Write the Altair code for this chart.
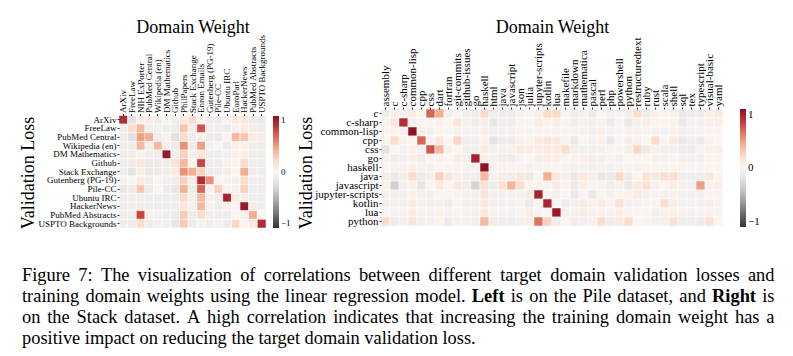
import altair as alt
import pandas as pd

# ---------------- data ----------------
pile_domains = ["ArXiv", "FreeLaw", "NIH ExPorter", "PubMed Central", "Wikipedia (en)",
                "DM Mathematics", "Github", "PhilPapers", "Stack Exchange", "Enron Emails",
                "Gutenberg (PG-19)", "Pile-CC", "Ubuntu IRC", "EuroParl", "HackerNews",
                "PubMed Abstracts", "USPTO Backgrounds"]
pile_targets = ["ArXiv", "FreeLaw", "PubMed Central", "Wikipedia (en)", "DM Mathematics",
                "Github", "Stack Exchange", "Gutenberg (PG-19)", "Pile-CC", "Ubuntu IRC",
                "HackerNews", "PubMed Abstracts", "USPTO Backgrounds"]
pile_corr = [
    [0.85, -0.2, 0.05, 0.05, -0.08, 0.0, -0.08, 0.1, 0.2, 0.02, -0.1, -0.1, 0.0, 0.08, 0.1, -0.1, -0.12],
    [-0.08, 0.2, 0.35, -0.08, -0.05, -0.08, -0.1, 0.3, -0.1, 0.7, -0.08, -0.08, -0.1, -0.03, 0.08, -0.08, -0.1],
    [-0.1, -0.2, 0.45, 0.4, -0.08, -0.03, -0.2, 0.2, -0.1, 0.05, -0.1, -0.12, 0.0, 0.35, 0.3, 0.08, -0.08],
    [-0.08, -0.1, 0.35, -0.08, 0.35, -0.05, -0.1, 0.5, -0.08, 0.45, -0.05, 0.0, -0.1, 0.03, 0.03, -0.08, -0.1],
    [-0.08, -0.08, -0.03, -0.08, -0.08, 0.95, -0.08, 0.25, -0.05, 0.1, -0.08, -0.08, -0.05, 0.04, 0.05, -0.08, -0.08],
    [-0.08, -0.1, 0.12, -0.12, -0.1, -0.08, 0.15, 0.35, 0.0, 0.75, -0.1, -0.1, 0.03, 0.02, 0.2, -0.08, -0.1],
    [-0.08, -0.18, 0.06, -0.12, -0.1, -0.08, 0.08, 0.5, 0.4, 0.25, -0.1, -0.1, 0.08, 0.0, 0.4, -0.08, -0.1],
    [-0.05, 0.0, 0.08, -0.08, 0.0, -0.05, -0.08, 0.25, -0.08, 0.85, 0.5, 0.02, -0.05, -0.05, 0.2, -0.08, -0.08],
    [-0.15, -0.1, 0.3, -0.1, 0.0, -0.1, -0.15, 0.38, -0.08, 0.65, 0.0, 0.25, 0.02, -0.05, 0.25, -0.1, -0.1],
    [-0.08, -0.08, -0.08, -0.08, -0.08, -0.08, -0.08, 0.2, -0.08, 0.35, -0.05, -0.08, 0.9, 0.08, -0.05, -0.08, -0.08],
    [-0.08, -0.08, -0.08, -0.08, -0.08, -0.08, -0.08, 0.12, -0.05, 0.35, -0.05, -0.08, -0.05, 0.0, 0.95, -0.08, -0.08],
    [-0.08, -0.1, 0.75, 0.03, -0.05, -0.08, -0.12, 0.28, -0.1, 0.18, -0.08, -0.08, -0.1, 0.0, -0.05, 0.4, 0.0],
    [-0.08, -0.1, 0.2, -0.08, -0.05, -0.05, -0.15, 0.28, -0.1, -0.03, -0.08, -0.05, -0.1, 0.22, 0.0, 0.1, 0.85],
]

stack_domains = ["assembly", "c", "c-sharp", "common-lisp", "cpp", "css", "dart", "fortran",
                 "git-commits", "github-issues", "go", "haskell", "html", "java", "javascript",
                 "json", "julia", "jupyter-scripts", "kotlin", "lua", "makefile", "markdown",
                 "mathematica", "pascal", "perl", "php", "powershell", "python",
                 "restructuredtext", "ruby", "rust", "scala", "shell", "sql", "tex",
                 "typescript", "visual-basic", "yaml"]
stack_targets = ["c", "c-sharp", "common-lisp", "cpp", "css", "go", "haskell", "java",
                 "javascript", "jupyter-scripts", "kotlin", "lua", "python"]
stack_corr = [
    [-0.08, 0.05, -0.05, 0.08, 0.02, 0.65, 0.4, -0.05, 0.0, -0.06, -0.08, 0.2, -0.08, -0.1, -0.1, -0.02, 0.0, 0.05, 0.2,
     0.2, 0.0, -0.08, -0.03, -0.12, 0.0, -0.05, 0.0, -0.08, 0.18, -0.1, 0.04, 0.02, 0.04, -0.12, -0.1, -0.1, 0.05, 0.1],
    [0.02, 0.12, 0.85, 0.05, 0.0, 0.0, 0.04, 0.0, 0.12, -0.05, -0.1, 0.05, -0.15, -0.08, -0.08, 0.0, 0.0, 0.07, 0.02,
     0.06, 0.0, -0.08, 0.03, -0.05, 0.04, -0.12, 0.0, -0.12, 0.04, 0.06, 0.0, 0.0, 0.02, -0.12, -0.05, -0.05, 0.05, 0.05],
    [0.0, -0.02, -0.04, 0.98, -0.04, -0.05, 0.0, 0.0, -0.03, -0.03, -0.03, 0.03, -0.04, -0.04, -0.04, -0.02, -0.02, -0.02, -0.02,
     -0.02, 0.0, 0.02, -0.03, -0.04, 0.04, -0.03, -0.02, -0.03, -0.03, -0.02, -0.03, -0.03, -0.02, -0.04, -0.03, -0.02, 0.0, 0.0],
    [0.02, 0.2, -0.03, 0.0, 0.65, -0.05, 0.12, 0.0, 0.22, -0.08, -0.08, 0.04, -0.18, -0.1, -0.1, 0.04, 0.0, 0.08, 0.12,
     0.1, -0.02, -0.12, 0.0, -0.06, 0.04, -0.12, 0.0, -0.06, 0.05, 0.0, 0.2, 0.0, 0.1, -0.12, -0.08, -0.12, 0.03, 0.0],
    [-0.18, 0.0, -0.05, 0.04, -0.06, 0.7, 0.35, -0.03, 0.0, -0.06, -0.06, 0.08, -0.04, -0.05, 0.04, 0.08, 0.06, 0.06, 0.1,
     0.1, 0.18, -0.06, -0.06, -0.06, -0.04, -0.02, 0.0, -0.06, 0.22, -0.12, 0.04, -0.05, -0.04, -0.1, -0.1, -0.02, 0.03, 0.05],
    [0.04, -0.08, -0.06, 0.04, -0.08, 0.0, 0.04, 0.0, 0.07, -0.05, 0.9, 0.06, -0.05, -0.08, -0.08, -0.02, 0.0, -0.04, 0.06,
     0.06, 0.0, 0.02, 0.03, 0.06, -0.06, 0.0, -0.06, 0.0, 0.0, 0.0, -0.03, 0.03, 0.0, -0.05, -0.04, -0.06, 0.0, -0.02],
    [0.0, 0.03, -0.03, 0.04, -0.03, -0.03, 0.0, 0.0, -0.02, -0.03, -0.03, 0.98, -0.03, -0.03, -0.02, -0.02, -0.03, -0.02, 0.0,
     0.02, -0.02, -0.04, -0.03, -0.04, -0.03, -0.04, -0.04, -0.02, 0.03, 0.02, 0.0, -0.02, 0.0, -0.02, -0.02, -0.02, 0.0, 0.0],
    [-0.08, -0.12, -0.06, 0.2, -0.1, -0.04, 0.25, 0.12, -0.04, -0.06, -0.08, 0.35, -0.05, 0.08, -0.08, 0.12, -0.12, 0.0, 0.4,
     0.1, 0.05, -0.12, 0.1, 0.06, -0.15, -0.12, 0.22, -0.1, 0.0, 0.15, -0.1, 0.18, 0.18, -0.08, -0.08, -0.08, 0.12, -0.02],
    [0.04, -0.3, -0.05, 0.03, -0.15, 0.0, 0.1, 0.0, 0.1, -0.08, -0.28, 0.15, -0.1, 0.15, 0.38, 0.18, 0.0, 0.02, 0.0,
     0.08, -0.02, -0.12, 0.06, 0.0, 0.02, -0.08, 0.04, -0.12, 0.08, 0.15, 0.04, 0.0, 0.06, -0.05, -0.06, 0.45, 0.02, 0.05],
    [0.04, -0.06, -0.05, 0.04, -0.06, -0.06, 0.0, 0.0, -0.02, -0.04, -0.04, 0.15, -0.05, -0.06, -0.06, -0.05, 0.1, 0.9, 0.0,
     -0.06, 0.0, -0.12, 0.0, -0.12, 0.0, -0.06, 0.0, 0.02, 0.08, -0.04, -0.02, -0.04, 0.02, -0.05, -0.06, -0.06, 0.0, -0.02],
    [-0.04, -0.05, -0.05, 0.08, -0.05, -0.05, 0.03, -0.08, 0.0, -0.04, -0.05, 0.1, -0.05, -0.05, -0.05, -0.02, -0.12, 0.0, 0.88,
     0.0, -0.08, -0.05, 0.08, -0.03, 0.08, -0.02, 0.15, -0.05, -0.03, 0.0, -0.02, 0.18, 0.05, -0.05, -0.04, -0.05, 0.05, -0.02],
    [0.0, -0.03, -0.03, 0.06, -0.04, -0.04, 0.04, -0.03, 0.0, -0.03, -0.04, 0.1, -0.03, -0.03, -0.04, -0.02, 0.05, 0.0, 0.0,
     0.95, -0.05, -0.05, 0.08, -0.03, 0.04, -0.04, 0.06, -0.02, -0.02, 0.0, -0.06, -0.03, 0.05, -0.05, -0.04, -0.03, 0.03, -0.02],
    [0.2, -0.1, -0.05, 0.15, -0.06, -0.06, 0.02, -0.1, 0.04, -0.05, -0.06, 0.35, -0.08, -0.08, -0.08, -0.05, 0.05, 0.6, 0.25,
     -0.06, 0.0, -0.08, -0.05, -0.03, 0.2, -0.1, 0.1, 0.2, 0.0, 0.0, 0.03, -0.05, 0.15, -0.08, -0.08, -0.1, 0.15, 0.0],
]

colorbar_ticks = [-1, 0, 1]

caption_lines = [
    "Figure 7: The visualization of correlations between different target domain validation losses and",
    "training domain weights using the linear regression model. Left is on the Pile dataset, and Right is",
    "on the Stack dataset. A high correlation indicates that increasing the training domain weight has a",
    "positive impact on reducing the target domain validation loss.",
]
caption_bold_words = ["Left", "Right"]

# ---------------- build tables ----------------
def long_table(targets, domains, matrix):
    rows = []
    for i, t in enumerate(targets):
        for j, d in enumerate(domains):
            rows.append({"target": t, "domain": d, "corr": matrix[i][j]})
    return pd.DataFrame(rows)

pile_df = long_table(pile_targets, pile_domains, pile_corr)
stack_df = long_table(stack_targets, stack_domains, stack_corr)
one_df = pd.DataFrame({"k": [0]})

FONT = "Liberation Serif"
LX, TOP = 119, 109  # page position of left plot origin

def color_enc(legend_x, legend_y, length, label_size):
    return alt.Color(
        "corr:Q",
        scale=alt.Scale(scheme="redgrey", reverse=True, domain=[-1, 1], domainMid=0),
        legend=alt.Legend(
            orient="none", legendX=legend_x, legendY=legend_y, direction="vertical",
            gradientLength=length, gradientThickness=6, values=colorbar_ticks,
            labelFontSize=label_size, labelFont=FONT, labelColor="black",
            labelOffset=2, labelBaseline="middle", gradientStrokeWidth=0, title=None,
        ),
    )

# ---------------- left heatmap (Pile) ----------------
left_heat = alt.Chart(pile_df).mark_rect(stroke="white", strokeWidth=0.5).encode(
    x=alt.X("domain:N", sort=pile_domains,
            scale=alt.Scale(paddingInner=0, paddingOuter=0),
            axis=alt.Axis(orient="top", labelAngle=270, labelFontSize=9, labelPadding=1,
                          tickSize=2, offset=-6.5, labelOverlap=False,
                          title="Domain Weight", titleFontSize=18, titleX=73.5,
                          titleY=-83.5, titleBaseline="alphabetic", titleAlign="center",
                          titleAngle=0)),
    y=alt.Y("target:N", sort=pile_targets,
            scale=alt.Scale(range=[6.5, 119], paddingInner=0, paddingOuter=0),
            axis=alt.Axis(orient="left", labelFontSize=9, labelPadding=1, tickSize=2,
                          labelOverlap=False,
                          title="Validation Loss", titleFontSize=18, titleX=-86,
                          titleY=63.5, titleAngle=270, titleBaseline="alphabetic",
                          titleAlign="center")),
    color=color_enc(154, 7, 112, 9),
)

# white background anchor spanning the whole page
page = alt.Chart(one_df).mark_rect(fill="white", strokeWidth=0).encode(
    x=alt.value(-LX), x2=alt.value(793 - LX),
    y=alt.value(-TOP), y2=alt.value(356 - TOP),
)

# ---------------- caption (justified, word by word) ----------------
CAP_SIZE = 18.4
TNR = {" ": 250, ".": 250, ",": 250, ":": 278, "-": 333, "7": 500,
       "A": 722, "F": 556, "L": 611, "P": 556, "R": 667, "S": 556, "T": 611,
       "a": 444, "b": 500, "c": 444, "d": 500, "e": 444, "f": 333, "g": 500, "h": 500,
       "i": 278, "j": 278, "k": 500, "l": 278, "m": 778, "n": 500, "o": 500, "p": 500,
       "q": 500, "r": 333, "s": 389, "t": 278, "u": 500, "v": 500, "w": 722, "x": 500,
       "y": 500, "z": 444}
TNR_BOLD = {"L": 667, "R": 722, "e": 444, "f": 333, "t": 333, "i": 278, "g": 500, "h": 556}

def word_width(word, bold):
    tab = TNR_BOLD if bold else TNR
    return sum(tab.get(ch, TNR.get(ch, 500)) for ch in word) / 1000.0 * CAP_SIZE

def ctext(txt, x, y, align="left", weight="normal"):
    return alt.Chart(one_df).mark_text(
        text=txt, align=align, baseline="alphabetic", fontSize=CAP_SIZE, font=FONT,
        fontWeight=weight, color="black",
    ).encode(x=alt.value(x - LX), y=alt.value(y - TOP))

X0, X1 = 22, 774.5
baselines = [280.5, 301.6, 322.9, 344.2]
captions = []
for li, line in enumerate(caption_lines):
    y = baselines[li]
    if li == len(caption_lines) - 1:
        captions.append(ctext(line, X0, y))
        continue
    words = line.split(" ")
    bolds = [(li == 1 and w in caption_bold_words) for w in words]
    widths = [word_width(w, b) for w, b in zip(words, bolds)]
    gap = (X1 - X0 - sum(widths)) / (len(words) - 1)
    x = X0
    for k, (w, b, wd) in enumerate(zip(words, bolds, widths)):
        weight = "bold" if b else "normal"
        if k == len(words) - 1:
            captions.append(ctext(w, X1, y, align="right", weight=weight))
        else:
            captions.append(ctext(w, x, y, weight=weight))
        x += wd + gap

left = alt.layer(page, left_heat, *captions).properties(width=147, height=119)

# ---------------- right heatmap (Stack) ----------------
right = alt.Chart(stack_df).mark_rect(stroke="white", strokeWidth=0.5).encode(
    x=alt.X("domain:N", sort=stack_domains,
            scale=alt.Scale(paddingInner=0, paddingOuter=0),
            axis=alt.Axis(orient="top", labelAngle=270, labelFontSize=11, labelPadding=1,
                          tickSize=2, labelOverlap=False,
                          title="Domain Weight", titleFontSize=18, titleX=171,
                          titleY=-77, titleBaseline="alphabetic", titleAlign="center",
                          titleAngle=0)),
    y=alt.Y("target:N", sort=stack_targets,
            scale=alt.Scale(paddingInner=0, paddingOuter=0),
            axis=alt.Axis(orient="left", labelFontSize=11, labelPadding=1, tickSize=2,
                          labelOverlap=False,
                          title="Validation Loss", titleFontSize=18, titleX=-70,
                          titleY=63.5, titleAngle=270, titleBaseline="alphabetic",
                          titleAlign="center")),
    color=color_enc(359, 0, 118, 11),
).properties(width=342, height=117)

chart = alt.hconcat(left, right, spacing=115, bounds="flush").resolve_scale(
    color="independent"
).resolve_legend(color="independent").properties(
    padding=0, autosize=alt.AutoSizeParams(type="pad")
).configure(font=FONT, background="white").configure_view(strokeWidth=0).configure_axis(
    domain=False, grid=False, labelColor="black", tickColor="black", titleColor="black",
    titleFontWeight="normal", labelFont=FONT, titleFont=FONT, tickWidth=0.8,
)

chart.save("out.html", embed_options={"renderer": "svg", "actions": False})
